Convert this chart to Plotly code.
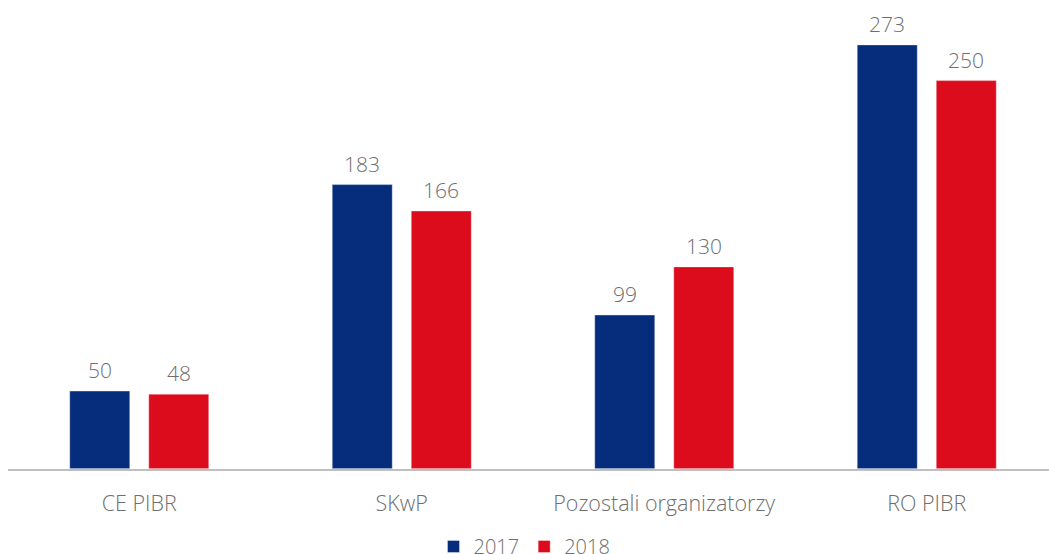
import plotly.graph_objects as go

categories = ["CE PIBR", "SKwP", "Pozostali organizatorzy", "RO PIBR"]
values_2017 = [50, 183, 99, 273]
values_2018 = [48, 166, 130, 250]
series_names = ["2017", "2018"]

BLUE = "#052D7C"
RED = "#DC0C1D"
TXT = "#6E6E6E"
FONT = "Open Sans"

W, H = 1049, 566
REF_H = 554
x_left = 8            # px where the plot area starts
cat_px = 262.5        # px per category
bar_w = 0.2286
offsets = [-0.2648, 0.0362]

fig = go.Figure()
for name, vals, col, off in [(series_names[0], values_2017, BLUE, offsets[0]),
                             (series_names[1], values_2018, RED, offsets[1])]:
    fig.add_trace(go.Bar(
        x=categories, y=vals, name=name,
        marker=dict(color=col, line=dict(color="rgba(255,255,255,0.35)", width=1)),
        width=bar_w, offset=off,
        hoverinfo="x+y+name",
    ))
    for c, v in zip(categories, vals):
        fig.add_annotation(
            x=c, y=v, xref="x", yref="y", text=str(v), showarrow=False,
            xshift=(off + bar_w / 2) * cat_px, yshift=5, yanchor="bottom",
            font=dict(family=FONT, size=21, color=TXT, weight=300),
        )

plot_bottom = 467
plot_top = 3
fig.update_layout(
    width=W, height=H, autosize=False,
    margin=dict(l=0, r=0, t=0, b=0),
    paper_bgcolor="white", plot_bgcolor="white",
    font=dict(family=FONT, color=TXT, weight=300),
    showlegend=True,
    legend=dict(orientation="h", x=0.5, xanchor="center",
                y=(REF_H - 545) / REF_H, yanchor="middle",
                font=dict(family=FONT, size=20, color=TXT, weight=300),
                itemwidth=30, traceorder="normal"),
    xaxis=dict(domain=[x_left / W, 1],
               range=[-0.5, -0.5 + (W - x_left) / cat_px], showgrid=False, showline=True,
               linecolor="#BFBFBF", linewidth=2, ticks="", ticklen=0,
               ticklabelstandoff=15,
               tickfont=dict(family=FONT, size=21.5, color=TXT, weight=300)),
    yaxis=dict(domain=[(REF_H - plot_bottom) / REF_H, (REF_H - plot_top) / REF_H],
               range=[0, 300], visible=False, showgrid=False),
)

fig.write_html(
    "out.html",
    config={"responsive": False, "displayModeBar": False},
    post_script="document.body.style.margin='0px';document.body.style.overflow='hidden';",
)
